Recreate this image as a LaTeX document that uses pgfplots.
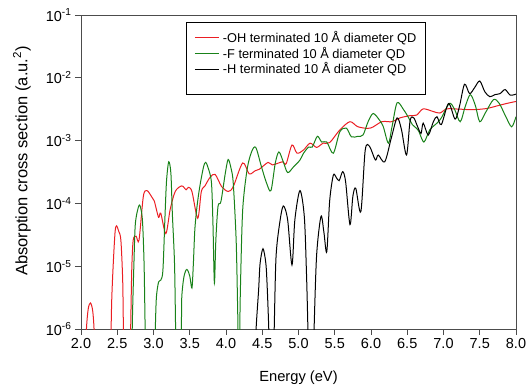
\documentclass[border=0pt]{standalone}
\usepackage{fontspec}
\setmainfont{Liberation Sans}
\usepackage{pgfplots}
\pgfplotsset{compat=1.18}
\definecolor{cred}{RGB}{235,30,35}
\definecolor{cgreen}{RGB}{25,130,25}
\newcommand{\legline}[1]{\textcolor{#1}{\rule[4.1pt]{24pt}{1pt}}}
\begin{document}
\begin{tikzpicture}
\begin{axis}[
  at={(0,0)}, anchor=south west,
  scale only axis, width=435pt, height=314pt,
  ymode=log, xmin=2, xmax=8, ymin=1e-6, ymax=1e-1,
  enlargelimits=false,
  axis line style={black!70, line width=0.8pt},
  tick style={black!70, line width=0.8pt},
  tick align=outside, major tick length=6pt,
  xtick pos=left, ytick pos=left,
  yminorticks=false, xminorticks=false,
  xtick={2,2.5,3,3.5,4,4.5,5,5.5,6,6.5,7,7.5,8},
  xticklabels={2.0,2.5,3.0,3.5,4.0,4.5,5.0,5.5,6.0,6.5,7.0,7.5,8.0},
  ytick={1e-6,1e-5,1e-4,1e-3,1e-2,1e-1},
  yticklabels={10\textsuperscript{-6},10\textsuperscript{-5},10\textsuperscript{-4},10\textsuperscript{-3},10\textsuperscript{-2},10\textsuperscript{-1}},
  tick label style={font=\fontsize{14.5}{16}\selectfont},
  xlabel={Energy (eV)},
  ylabel={Absorption cross section (a.u.\textsuperscript{2})},
  every axis x label/.style={at={(axis description cs:0.5,-0.156)}, anchor=center, font=\fontsize{14.7}{17}\selectfont},
  every axis y label/.style={at={(axis description cs:-0.136,0.535)}, anchor=center, rotate=90, font=\fontsize{16.5}{18}\selectfont},
  unbounded coords=jump,
]
\addplot[cred, line width=1pt, smooth, tension=0.5] table {
2.065 3e-7
2.075 1e-6
2.10 2.1e-6
2.13 2.6e-6
2.16 2.0e-6
2.18 1e-6
2.19 3e-7
2.30 nan
2.405 3e-7
2.415 1e-6
2.425 3.2e-6
2.445 1.1e-5
2.47 3.5e-5
2.49 4.4e-5
2.52 3.6e-5
2.55 2.6e-5
2.575 6e-6
2.585 1e-6
2.595 3e-7
2.64 nan
2.675 3e-7
2.685 1e-6
2.70 8.7e-6
2.72 2.6e-5
2.76 3.0e-5
2.80 2.6e-5
2.86 1.3e-4
2.91 1.6e-4
2.97 1.3e-4
3.01 1.1e-4
3.07 6e-5
3.10 7e-5
3.17 3.3e-5
3.23 8e-5
3.30 1.55e-4
3.39 1.9e-4
3.45 1.65e-4
3.48 1.8e-4
3.53 1.55e-4
3.61 5.8e-5
3.66 1.55e-4
3.71 1.9e-4
3.78 2.6e-4
3.85 2.9e-4
3.94 1.85e-4
4.03 1.55e-4
4.10 1.85e-4
4.23 4.4e-4
4.32 2.95e-4
4.40 3.3e-4
4.46 3.5e-4
4.58 4.5e-4
4.64 4.1e-4
4.78 4.6e-4
4.83 4.3e-4
4.91 8.5e-4
4.98 6.3e-4
5.07 7.1e-4
5.16 9.1e-4
5.25 7.8e-4
5.34 9.1e-4
5.43 9.3e-4
5.57 1.48e-3
5.71 2.0e-3
5.82 1.66e-3
5.99 1.58e-3
6.15 2.0e-3
6.29 2.0e-3
6.40 2.3e-3
6.54 2.5e-3
6.63 2.55e-3
6.72 3.2e-3
6.86 2.9e-3
6.95 2.75e-3
7.04 3.2e-3
7.14 3.2e-3
7.27 3.15e-3
7.41 3.1e-3
7.60 3.25e-3
7.73 3.55e-3
7.87 3.9e-3
8.00 4.2e-3
};
\addplot[cgreen, line width=1pt, smooth, tension=0.5] table {
2.70 3e-7
2.71 1.6e-6
2.73 1.1e-5
2.75 4.8e-5
2.80 9.3e-5
2.83 7.8e-5
2.85 4.8e-5
2.87 1.1e-5
2.885 1e-6
2.895 3e-7
2.95 nan
3.015 3e-7
3.025 1e-6
3.04 3.2e-6
3.07 5.6e-6
3.10 6e-6
3.13 8.7e-6
3.16 6.9e-5
3.18 2.3e-4
3.21 4.6e-4
3.24 3.0e-4
3.26 6.9e-5
3.29 1.1e-5
3.305 1e-6
3.315 3e-7
3.34 nan
3.375 3e-7
3.385 1e-6
3.39 3.2e-6
3.42 6.8e-6
3.46 8.9e-6
3.50 7e-6
3.53 4.5e-6
3.55 1.1e-5
3.57 3.8e-5
3.60 8.9e-5
3.64 1.9e-4
3.69 3.8e-4
3.72 4.5e-4
3.76 3.5e-4
3.80 2.1e-4
3.82 4.8e-5
3.84 5.4e-6
3.86 2.6e-5
3.89 9e-5
3.93 1.07e-4
3.99 3e-4
4.03 5e-4
4.07 3.6e-4
4.10 2.1e-4
4.14 2.6e-5
4.16 2.3e-6
4.165 1e-6
4.17 3e-7
4.175 nan
4.185 3e-7
4.19 1e-6
4.20 5e-6
4.23 7.8e-5
4.29 3.4e-4
4.35 6.5e-4
4.41 7.8e-4
4.49 3.8e-4
4.56 2.1e-4
4.62 1.6e-4
4.68 4.4e-4
4.73 6.6e-4
4.79 4.6e-4
4.85 3.1e-4
4.93 3.8e-4
5.02 4.9e-4
5.07 6.3e-4
5.14 7.9e-4
5.19 7.9e-4
5.26 1.17e-3
5.32 9.5e-4
5.39 9.5e-4
5.48 6.3e-4
5.57 1.38e-3
5.66 1.58e-3
5.73 1.15e-3
5.82 1.17e-3
5.89 1.23e-3
5.96 2.0e-3
6.03 2.7e-3
6.12 2.1e-3
6.17 1.66e-3
6.24 9.1e-4
6.29 1.66e-3
6.36 4.0e-3
6.45 3.1e-3
6.52 2.3e-3
6.57 1.8e-3
6.62 1.6e-3
6.66 1.4e-3
6.73 9.5e-4
6.81 1.48e-3
6.91 1.9e-3
6.97 2.3e-3
7.08 3.9e-3
7.15 3.2e-3
7.23 2.0e-3
7.30 3.5e-3
7.37 5.4e-3
7.44 3.6e-3
7.50 2.0e-3
7.58 2.8e-3
7.69 4.5e-3
7.77 3.9e-3
7.86 2.4e-3
7.94 1.66e-3
8.00 2.4e-3
};
\addplot[black, line width=1pt, smooth, tension=0.5] table {
4.405 3e-7
4.415 1e-6
4.45 4.2e-6
4.47 1.1e-5
4.51 1.9e-5
4.55 1.1e-5
4.57 4.2e-6
4.59 1e-6
4.60 3e-7
4.63 nan
4.655 3e-7
4.665 1e-6
4.69 1.4e-5
4.74 4.8e-5
4.79 9.1e-5
4.85 5.5e-5
4.91 1.05e-5
4.95 5.5e-5
5.02 1.6e-4
5.08 6.2e-5
5.11 7.8e-6
5.13 1e-6
5.14 3e-7
5.17 nan
5.205 3e-7
5.215 1e-6
5.25 1.5e-5
5.31 6.2e-5
5.35 3.5e-5
5.39 1.7e-5
5.43 1.1e-4
5.48 2.8e-4
5.52 2.6e-4
5.56 2.3e-4
5.61 3.2e-4
5.65 2.2e-4
5.71 4.6e-5
5.75 1.3e-4
5.79 1.74e-4
5.86 7.4e-5
5.92 7e-4
5.98 8.1e-4
6.06 4.9e-4
6.10 5.9e-4
6.19 4.6e-4
6.28 1.1e-3
6.36 2.3e-3
6.42 1.5e-3
6.49 5.9e-4
6.54 2.1e-3
6.59 2.3e-3
6.64 1.7e-3
6.69 1.3e-3
6.72 1.9e-3
6.79 1.23e-3
6.86 2.0e-3
6.91 2.4e-3
6.97 1.8e-3
7.07 3.9e-3
7.16 2.2e-3
7.22 3.5e-3
7.29 7.9e-3
7.36 5.6e-3
7.43 7e-3
7.50 8.9e-3
7.57 6.0e-3
7.64 5.0e-3
7.71 5.4e-3
7.78 5.6e-3
7.85 6.5e-3
7.92 5.3e-3
8.00 5.5e-3
};
\node[draw=black, line width=0.8pt, fill=white, anchor=north west, inner xsep=8.5pt, inner ysep=0pt,
  font=\fontsize{12.8}{15}\selectfont]
  at (rel axis cs:0.2414,0.9777) {%
  \begin{tabular}{@{}l@{\hspace{4pt}}l@{}}
  \rule{0pt}{20pt}\legline{cred} & -OH terminated 10 Å diameter QD\\
  \legline{cgreen} & -F terminated 10 Å diameter QD\\
  \rule[-21pt]{0pt}{1pt}\legline{black} & -H terminated 10 Å diameter QD
  \end{tabular}};
\end{axis}
\pgfresetboundingbox
\path[use as bounding box] (-81pt,-62pt) rectangle (446pt,329pt);
\end{tikzpicture}
\end{document}
